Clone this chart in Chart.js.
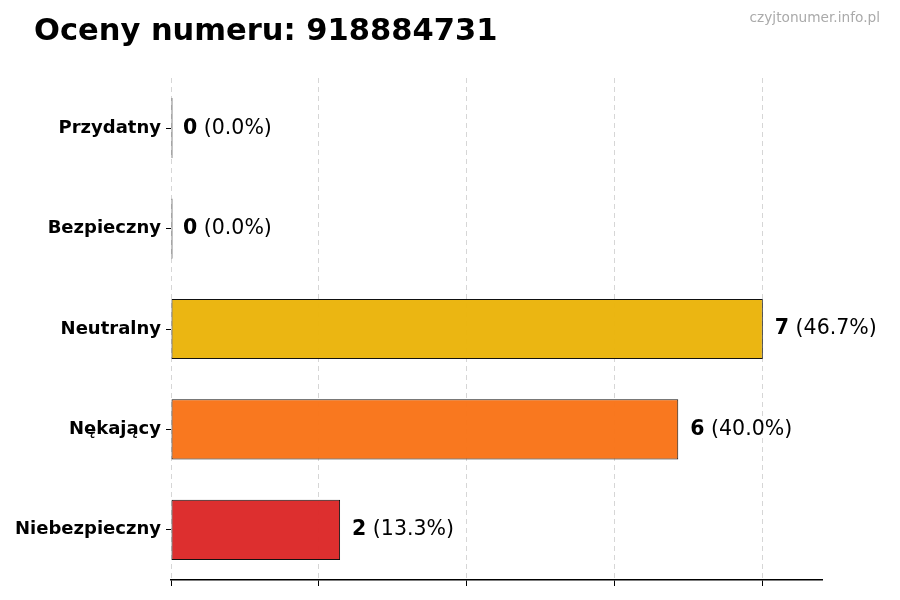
<!DOCTYPE html>
<html lang="pl">
<head>
<meta charset="utf-8">
<title>Oceny numeru: 918884731</title>
<script src="https://cdn.jsdelivr.net/npm/chart.js@4.4.1/dist/chart.umd.min.js"></script>
<style>
  html, body { margin: 0; padding: 0; background: #fff; }
  #wrap { position: relative; width: 900px; height: 600px; }
  #title {
    position: absolute; left: 34px; top: 15px;
    font: bold 30.5px "DejaVu Sans", sans-serif; line-height: 30px; color: #000;
  }
  #mark {
    position: absolute; right: 20px; top: 10px;
    font: 13.7px "DejaVu Sans", sans-serif; line-height: 14px; color: #aaa;
  }
</style>
</head>
<body>
<div id="wrap">
  <canvas id="ratingChart" width="900" height="600"></canvas>
  <div id="title">Oceny numeru: 918884731</div>
  <div id="mark">czyjtonumer.info.pl</div>
</div>
<script>
// dane z wykresu
const categories = ['Przydatny', 'Bezpieczny', 'Neutralny', 'Nękający', 'Niebezpieczny']
const counts = [0, 0, 7, 6, 2]
const barColors = ['#222', '#222', 'rgba(234,179,8,0.96)', 'rgba(249,115,22,0.96)', 'rgba(220,38,38,0.96)']
const xTicks = [0, 1.75, 3.5, 5.25, 7]
const xMax = 7.7

const total = counts.reduce((sum, v) => sum + v, 0)

// podpisy przy słupkach: liczba pogrubiona + procent
const valueLabels = {
  id: 'valueLabels',
  afterDatasetsDraw(chart) {
    const ctx = chart.ctx
    const xScale = chart.scales.x
    const meta = chart.getDatasetMeta(0)
    meta.data.forEach((bar, i) => {
      const v = counts[i]
      const pct = total ? (v / total * 100).toFixed(1) : '0.0'
      const x = xScale.getPixelForValue(v) + 12
      const y = bar.y
      ctx.save()
      ctx.textBaseline = 'middle'
      ctx.fillStyle = '#000'
      ctx.font = 'bold 20.5px "DejaVu Sans"'
      ctx.fillText(String(v), x, y)
      const numWidth = ctx.measureText(String(v)).width
      ctx.font = '20.5px "DejaVu Sans"'
      ctx.fillText(' (' + pct + '%)', x + numWidth, y)
      ctx.restore()
    })
  }
}

new Chart(document.getElementById('ratingChart'), {
  type: 'bar',
  data: {
    labels: categories,
    datasets: [{
      data: counts,
      backgroundColor: barColors,
      borderColor: '#111',
      borderWidth: 1,
      borderSkipped: false,
      minBarLength: 1.5,
      barPercentage: 0.6,
      categoryPercentage: 1
    }]
  },
  options: {
    indexAxis: 'y',
    responsive: false,
    animation: false,
    layout: { padding: { top: 78, right: 78, bottom: 0, left: 0 } },
    plugins: {
      legend: { display: false },
      tooltip: { enabled: false }
    },
    scales: {
      x: {
        min: 0,
        max: xMax,
        afterBuildTicks: scale => { scale.ticks = xTicks.map(v => ({ value: v })) },
        afterFit: scale => { scale.height = 20 },
        ticks: { callback: () => '' },
        grid: {
          color: 'rgba(0,0,0,0.16)',
          lineWidth: 1,
          tickColor: '#000',
          tickLength: 6,
          tickWidth: 1,
          tickBorderDash: []
        },
        border: { display: true, color: '#000', width: 1.5, dash: [5, 4] }
      },
      y: {
        afterFit: scale => { scale.width = 171 },
        ticks: {
          color: '#000',
          padding: 5,
          font: { family: 'DejaVu Sans', size: 18, weight: 'bold' }
        },
        grid: {
          offset: false,
          drawOnChartArea: false,
          tickColor: '#000',
          tickLength: 5,
          tickWidth: 1
        },
        border: { display: false }
      }
    }
  },
  plugins: [valueLabels]
})
</script>
</body>
</html>
